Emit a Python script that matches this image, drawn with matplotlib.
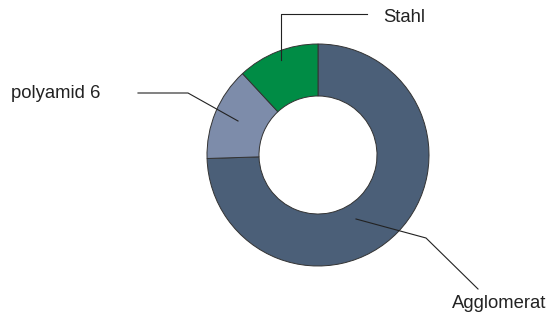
import matplotlib.pyplot as plt

# data
labels = ['Agglomerat', 'polyamid 6', 'Stahl']
values = [74.5, 13.6, 11.9]
colors = ['#4b5f78', '#7d8caa', '#008c45']

plt.rcParams['font.family'] = ['Liberation Sans', 'DejaVu Sans']

W, H = 550, 315
fig = plt.figure(figsize=(W / 100, H / 100), dpi=100)
ax = fig.add_axes([0, 0, 1, 1])

# donut, centre and radius in pixel coords (y measured from bottom)
ax.pie(values, colors=colors, startangle=90, counterclock=False,
       center=(318, H - 155), radius=111,
       wedgeprops=dict(width=52, edgecolor='#333333', linewidth=0.7))

# pie() resets the limits, so set them afterwards
ax.set_xlim(0, W)
ax.set_ylim(0, H)
ax.set_aspect('equal')
ax.axis('off')

# leader lines (pixel coords from the top, converted)
leaders = {
    'Stahl': [(281, 60), (281, 14), (367, 14)],
    'polyamid 6': [(238, 121), (188, 93), (138, 93)],
    'Agglomerat': [(356, 219), (426, 238), (478, 289)],
}
text_pos = {
    'Stahl': (383, 18, 'left'),
    'polyamid 6': (11, 94, 'left'),
    'Agglomerat': (452, 303, 'left'),
}
for name in labels:
    pts = leaders[name]
    ax.plot([p[0] for p in pts], [H - p[1] for p in pts],
            color='#222222', linewidth=0.8)
    x, y, ha = text_pos[name]
    ax.text(x, H - y, name, ha=ha, va='center', fontsize=13.3, color='#222222')

fig.savefig('out.png', dpi=100)
